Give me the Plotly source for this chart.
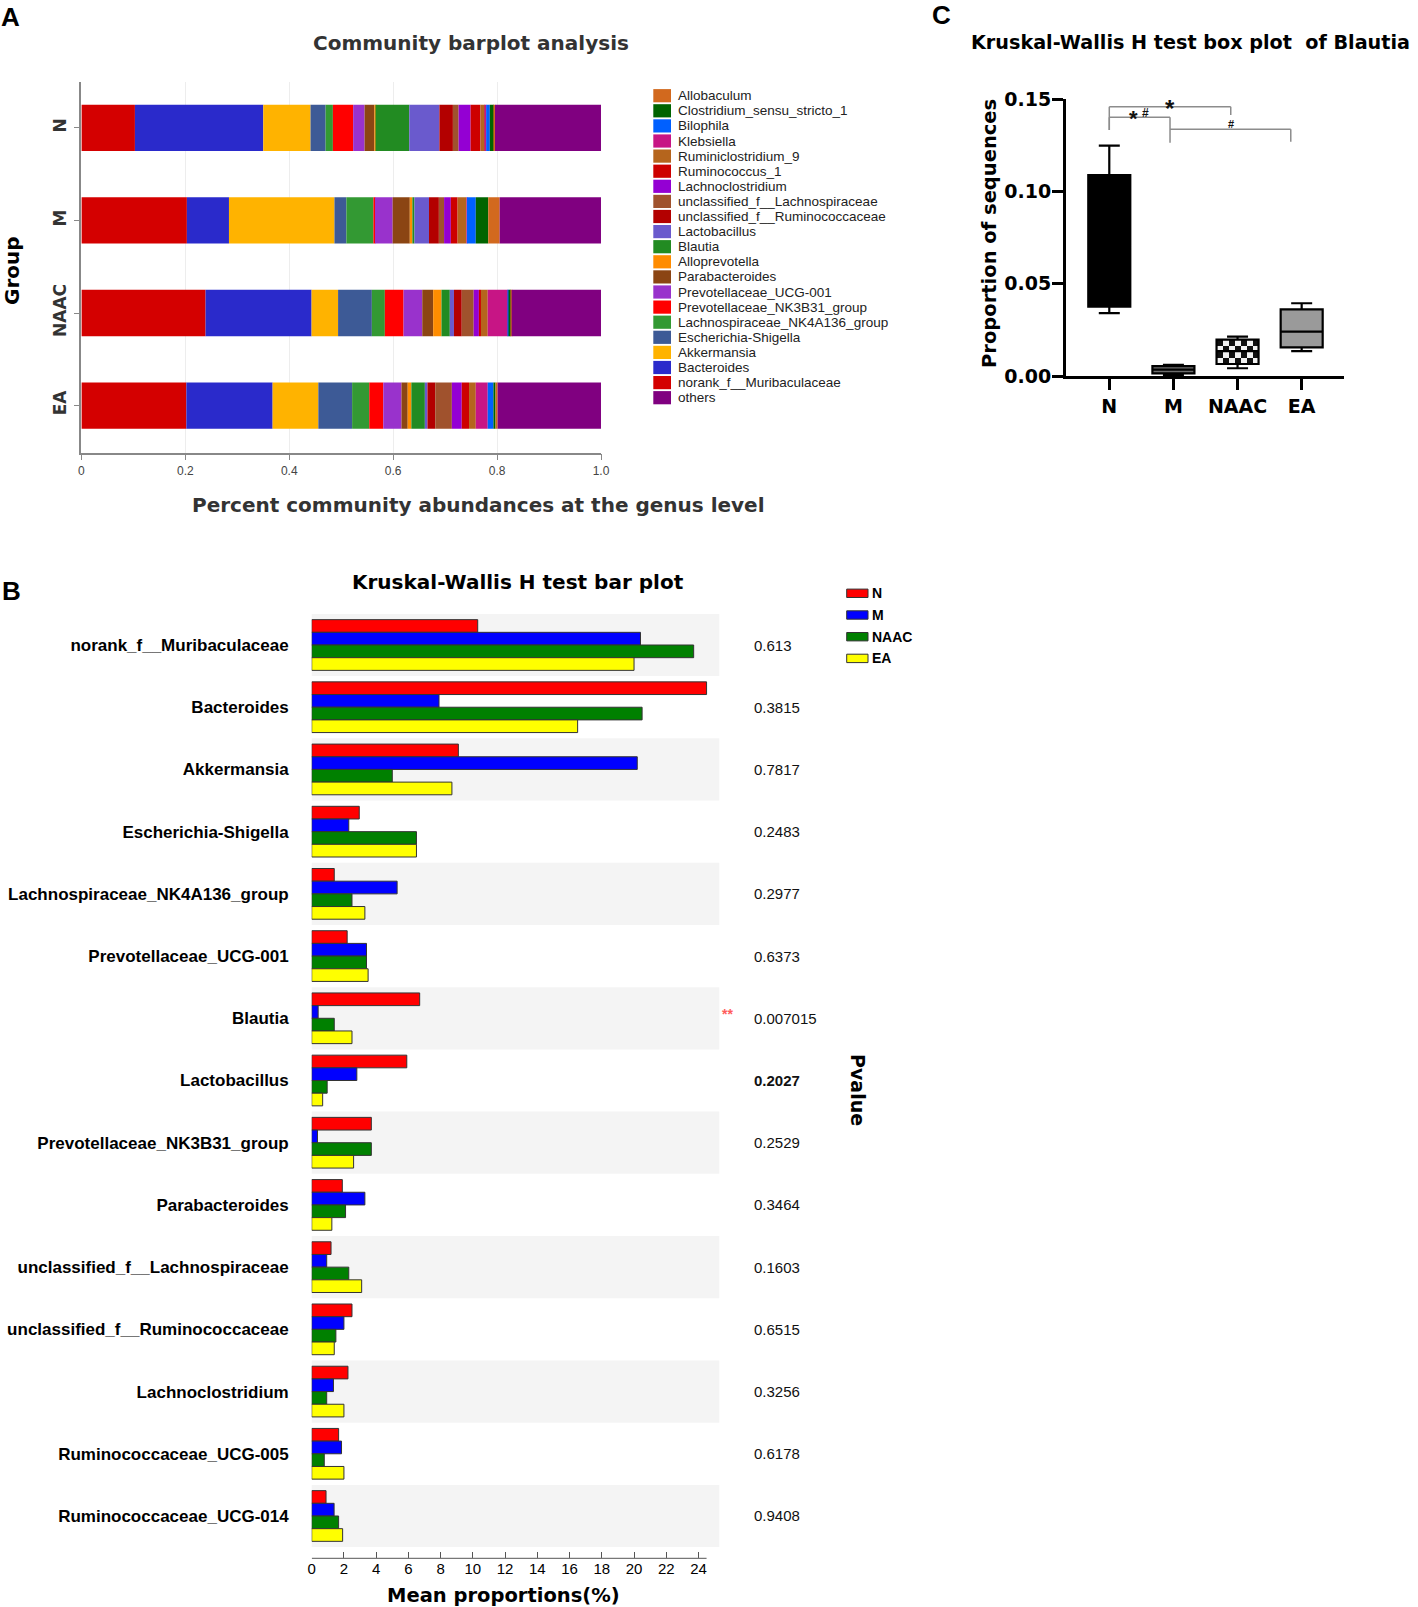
import numpy as np
import plotly.graph_objects as go

W, H = 1418, 1607


def px(x):
    return x / W


def py(y):
    return 1 - y / H


# ---------------- Panel A data (stacked community barplot) ----------------
groups_a = ["N", "M", "NAAC", "EA"]
genera_a = [
    "norank_f__Muribaculaceae", "Bacteroides", "Akkermansia", "Escherichia-Shigella",
    "Lachnospiraceae_NK4A136_group", "Prevotellaceae_NK3B31_group", "Prevotellaceae_UCG-001",
    "Parabacteroides", "Alloprevotella", "Blautia", "Lactobacillus",
    "unclassified_f__Ruminococcaceae", "unclassified_f__Lachnospiraceae", "Lachnoclostridium",
    "Ruminococcus_1", "Ruminiclostridium_9", "Klebsiella", "Bilophila",
    "Clostridium_sensu_stricto_1", "Allobaculum", "others",
]
abund_N = [0.103, 0.247, 0.091, 0.029, 0.014, 0.039, 0.022, 0.019, 0.002, 0.065, 0.058,
           0.026, 0.011, 0.023, 0.019, 0.009, 0.002, 0.007, 0.008, 0.002, 0.204]
abund_M = [0.203, 0.081, 0.203, 0.023, 0.052, 0.003, 0.034, 0.033, 0.005, 0.004, 0.028,
           0.019, 0.010, 0.013, 0.013, 0.017, 0.001, 0.017, 0.024, 0.022, 0.195]
abund_NAAC = [0.239, 0.204, 0.051, 0.065, 0.025, 0.036, 0.036, 0.021, 0.016, 0.016, 0.008,
              0.015, 0.023, 0.010, 0.004, 0.013, 0.039, 0.001, 0.005, 0.001, 0.172]
abund_EA = [0.202, 0.166, 0.088, 0.065, 0.033, 0.027, 0.035, 0.012, 0.007, 0.026, 0.005,
            0.015, 0.032, 0.019, 0.014, 0.013, 0.023, 0.011, 0.004, 0.004, 0.199]
colors_a = [
    "#d40000", "#2a2acb", "#ffb300", "#3d5a96", "#339933", "#ff0000", "#9932cc",
    "#8b4513", "#ff8c00", "#228b22", "#6a5acd", "#b30000", "#a0522d", "#9400d3",
    "#cd0000", "#b5651d", "#c71585", "#0060ff", "#006400", "#d2691e", "#800080",
]
xticks_a = [0, 0.2, 0.4, 0.6, 0.8, 1.0]
xticktext_a = ["0", "0.2", "0.4", "0.6", "0.8", "1.0"]

# ---------------- Panel B data (Kruskal-Wallis bar plot) ----------------
genera_b = [
    "norank_f__Muribaculaceae", "Bacteroides", "Akkermansia", "Escherichia-Shigella",
    "Lachnospiraceae_NK4A136_group", "Prevotellaceae_UCG-001", "Blautia", "Lactobacillus",
    "Prevotellaceae_NK3B31_group", "Parabacteroides", "unclassified_f__Lachnospiraceae",
    "unclassified_f__Ruminococcaceae", "Lachnoclostridium", "Ruminococcaceae_UCG-005",
    "Ruminococcaceae_UCG-014",
]
groups_b = ["N", "M", "NAAC", "EA"]
mean_N = [10.3, 24.5, 9.1, 2.95, 1.4, 2.2, 6.7, 5.9, 3.7, 1.9, 1.2, 2.5, 2.25, 1.67, 0.89]
mean_M = [20.4, 7.9, 20.2, 2.3, 5.3, 3.4, 0.4, 2.8, 0.36, 3.3, 0.93, 2.0, 1.35, 1.85, 1.39]
mean_NAAC = [23.7, 20.5, 5.0, 6.5, 2.5, 3.4, 1.4, 0.96, 3.7, 2.1, 2.3, 1.5, 0.93, 0.78, 1.67]
mean_EA = [20.0, 16.5, 8.7, 6.5, 3.3, 3.5, 2.5, 0.68, 2.6, 1.25, 3.1, 1.4, 2.0, 2.0, 1.92]
pvalues_b = ["0.613", "0.3815", "0.7817", "0.2483", "0.2977", "0.6373", "0.007015", "0.2027",
             "0.2529", "0.3464", "0.1603", "0.6515", "0.3256", "0.6178", "0.9408"]
colors_b = ["#ff0000", "#0000ff", "#008000", "#ffff00"]
xticks_b = list(range(0, 25, 2))

# ---------------- Panel C data (box plot of Blautia) ----------------
groups_c = ["N", "M", "NAAC", "EA"]
q1_c = [0.0375, 0.0014, 0.0065, 0.0155]
median_c = [0.0700, 0.0035, 0.0135, 0.0240]
q3_c = [0.1088, 0.0054, 0.0197, 0.0361]
lower_c = [0.0341, 0.0005, 0.0042, 0.0135]
upper_c = [0.1247, 0.0061, 0.0213, 0.0394]
yticks_c = [0, 0.05, 0.10, 0.15]
yticktext_c = ["0.00", "0.05", "0.10", "0.15"]

BOLD = "DejaVu Sans"
ARIAL = "Liberation Sans"

fig = go.Figure()

# ---- Panel A traces ----
stack = np.array([abund_N, abund_M, abund_NAAC, abund_EA])
base = np.cumsum(stack, axis=1) - stack
for j, g in enumerate(genera_a):
    fig.add_trace(go.Bar(
        x=stack[:, j], y=groups_a, base=base[:, j], orientation="h",
        width=0.5, offset=-0.25, name=g,
        marker=dict(color=colors_a[j], line=dict(width=0)),
        xaxis="x", yaxis="y", showlegend=False, hoverinfo="skip",
    ))

# ---- Panel B traces ----
for vals, g, c in zip([mean_N, mean_M, mean_NAAC, mean_EA], groups_b, colors_b):
    fig.add_trace(go.Bar(
        x=vals, y=genera_b, orientation="h", name=g,
        marker=dict(color=c, line=dict(color="#333333", width=1)),
        xaxis="x3", yaxis="y3", showlegend=False, hoverinfo="skip",
    ))

# ---- Panel C traces ----
bw = 0.655
# checkerboard for NAAC box
ix = groups_c.index("NAAC")
xe = np.linspace(ix - bw / 2, ix + bw / 2, 8)
ye = np.linspace(q1_c[ix], q3_c[ix], 5)
zc = [[(i + j) % 2 for j in range(7)] for i in range(4)]
fig.add_trace(go.Heatmap(
    x=xe, y=ye, z=zc, zmin=0, zmax=1, showscale=False,
    colorscale=[[0, "#f2f2f2"], [1, "#111111"]], hoverinfo="skip",
    xaxis="x2", yaxis="y2",
))
fills_c = ["#000000", "#6e6e6e", "rgba(0,0,0,0)", "#9a9a9a"]
for i, g in enumerate(groups_c):
    fig.add_trace(go.Box(
        x=[i], q1=[q1_c[i]], median=[median_c[i]], q3=[q3_c[i]],
        lowerfence=[lower_c[i]], upperfence=[upper_c[i]],
        width=bw, whiskerwidth=0.5, fillcolor=fills_c[i],
        line=dict(color="black", width=2.2), name=g,
        xaxis="x2", yaxis="y2", showlegend=False, hoverinfo="skip",
        boxpoints=False,
    ))

shapes = []
annotations = []

# ---- Panel B row backgrounds ----
for i in range(0, len(genera_b), 2):
    shapes.append(dict(type="rect", xref="x3 domain", yref="y3", x0=0, x1=1,
                       y0=i - 0.5, y1=i + 0.5, fillcolor="#f4f4f4",
                       line=dict(width=0), layer="below"))
shapes.append(dict(type="line", xref="x3", yref="y3 domain", x0=0, x1=24.5, y0=0, y1=0,
                   line=dict(color="#777777", width=1.2)))

# p-values
for i, p in enumerate(pvalues_b):
    txt = "<b>%s</b>" % p if p == "0.2027" else p
    annotations.append(dict(xref="paper", yref="y3", x=px(752), y=i, text=txt,
                            showarrow=False, xanchor="left", yanchor="middle",
                            font=dict(family=ARIAL, size=15, color="#111111")))
annotations.append(dict(xref="paper", yref="y3", x=px(727), y=genera_b.index("Blautia"),
                        yshift=4, text="**", showarrow=False,
                        font=dict(family=ARIAL, size=14, color="#ff5c5c", weight="bold")))

# ---- Panel A legend (manual, compact) ----
legend_order = genera_a[-2::-1] + [genera_a[-1]]
for k, g in enumerate(legend_order):
    yc = 95.7 + 15.1 * k
    shapes.append(dict(type="rect", xref="paper", yref="paper",
                       x0=px(653.3), x1=px(671), y0=py(yc + 6.6), y1=py(yc - 6.6),
                       fillcolor=colors_a[genera_a.index(g)], line=dict(width=0)))
    annotations.append(dict(xref="paper", yref="paper", x=px(676), y=py(yc), text=g,
                            showarrow=False, xanchor="left", yanchor="middle",
                            font=dict(family=ARIAL, size=13.5, color="#222222")))

# ---- Panel B legend ----
for k, (g, c) in enumerate(zip(groups_b, colors_b)):
    yc = 593.3 + 21.7 * k
    shapes.append(dict(type="rect", xref="paper", yref="paper",
                       x0=px(846.7), x1=px(868), y0=py(yc + 4.2), y1=py(yc - 4.2),
                       fillcolor=c, line=dict(color="#333333", width=1)))
    annotations.append(dict(xref="paper", yref="paper", x=px(869.5), y=py(yc), text=g,
                            showarrow=False, xanchor="left", yanchor="middle",
                            font=dict(family=ARIAL, size=14, color="black", weight="bold")))

# ---- Panel C significance brackets ----
gray = "#8c8c8c"
brackets = [
    # (x0, x1, y_top, y_left_bottom, y_right_bottom)
    (0.0, 0.947, 0.1401, 0.1332, 0.1263),
    (0.0, 1.894, 0.1458, 0.1332, 0.1413),
    (0.947, 2.83, 0.1336, 0.1336, 0.1269),
]
for x0, x1, yt, yl, yr in brackets:
    shapes.append(dict(type="line", xref="x2", yref="y2", x0=x0, x1=x1, y0=yt, y1=yt,
                       line=dict(color=gray, width=1.5)))
    shapes.append(dict(type="line", xref="x2", yref="y2", x0=x0, x1=x0, y0=yl, y1=yt,
                       line=dict(color=gray, width=1.5)))
    shapes.append(dict(type="line", xref="x2", yref="y2", x0=x1, x1=x1, y0=yr, y1=yt,
                       line=dict(color=gray, width=1.5)))
sig_marks = [("*", 0.375, 0.1426, 22), ("#", 0.568, 0.1426, 12),
             ("*", 0.947, 0.1483, 24), ("#", 1.894, 0.1365, 11)]
for t, xx, yy, sz in sig_marks:
    annotations.append(dict(xref="x2", yref="y2", x=xx, y=yy, text=t, showarrow=False,
                            yshift=(-sz * 0.28 if t == "*" else 0),
                            font=dict(family=ARIAL, size=sz, color="#111111", weight="bold")))


# ---- Titles and labels ----
def label(text, x, y, size, family=BOLD, color="black", angle=0, anchor="center", weight="bold"):
    annotations.append(dict(xref="paper", yref="paper", x=px(x), y=py(y), text=text,
                            showarrow=False, xanchor=anchor, yanchor="middle",
                            textangle=angle,
                            font=dict(family=family, size=size, color=color, weight=weight)))


label("A", 10, 17, 26, family=ARIAL)
label("B", 11, 591, 26, family=ARIAL)
label("C", 941, 15, 26, family=ARIAL)
label("Community barplot analysis", 471, 42.7, 20, color="#333333")
label("Percent community abundances at the genus level", 479, 505, 20, color="#333333")
label("Group", 12, 271, 20, angle=-90)
label("Kruskal-Wallis H test bar plot", 518, 582, 20)
label("Mean proportions(%)", 503, 1595, 19.5)
label("Pvalue", 858, 1090, 19, angle=90)
label("Kruskal-Wallis H test box plot\u00a0 of Blautia", 969, 42.7, 19.2, anchor="left")
label("Proportion of sequences", 990, 234, 19.5, angle=-90)

fig.update_layout(
    width=W, height=H, autosize=False,
    margin=dict(l=0, r=0, t=0, b=0, pad=0),
    template="none",
    paper_bgcolor="white", plot_bgcolor="white",
    font=dict(family=ARIAL, color="black"),
    barmode="group", bargap=0.185, bargroupgap=0,
    showlegend=False, hovermode=False,
    shapes=shapes, annotations=annotations,
    # Panel A axes
    xaxis=dict(domain=[px(81.4), px(601)], range=[0, 1], anchor="y",
               tickvals=xticks_a, ticktext=xticktext_a, ticks="outside", ticklen=6,
               tickcolor="#888888", showline=True, linecolor="#888888", linewidth=1.5,
               showgrid=True, gridcolor="#ededed", zeroline=False,
               tickfont=dict(family=ARIAL, size=12, color="#444444")),
    yaxis=dict(domain=[py(452.7), py(81.7)], range=[3.51, -0.5], anchor="x",
               type="category", categoryorder="array", categoryarray=groups_a,
               tickangle=-90, ticks="outside", ticklen=6, tickcolor="#888888",
               showline=True, linecolor="#888888", linewidth=1.5, showgrid=False,
               zeroline=False, ticklabelstandoff=1,
               tickfont=dict(family=BOLD, size=17, color="#333333", weight="bold")),
    # Panel C axes
    xaxis2=dict(domain=[px(1066), px(1344)], range=[-0.675, 3.66], anchor="y2",
                tickvals=list(range(len(groups_c))), ticktext=groups_c,
                ticks="outside", ticklen=11, tickwidth=3, tickcolor="black",
                showline=True, linecolor="black", linewidth=3, showgrid=False,
                zeroline=False,
                tickfont=dict(family=BOLD, size=19, color="black", weight="bold")),
    yaxis2=dict(domain=[py(376), py(99)], range=[0, 0.15], anchor="x2",
                tickvals=yticks_c, ticktext=yticktext_c,
                ticks="outside", ticklen=11, tickwidth=3, tickcolor="black",
                showline=True, linecolor="black", linewidth=3, showgrid=False,
                zeroline=False, ticklabelstandoff=-3,
                tickfont=dict(family=BOLD, size=19, color="black", weight="bold")),
    # Panel B axes
    xaxis3=dict(domain=[px(311.7), px(719.3)], range=[0, 25.29], anchor="y3",
                tickvals=xticks_b, ticks="inside", ticklen=6, tickcolor="#555555",
                showline=False, showgrid=False, zeroline=False,
                tickfont=dict(family=ARIAL, size=15, color="black")),
    yaxis3=dict(domain=[py(1558.3), py(613.9)], range=[14.68, -0.5], anchor="x3",
                type="category", categoryorder="array", categoryarray=genera_b,
                ticks="", showline=False, showgrid=False, zeroline=False,
                ticklabelstandoff=22,
                tickfont=dict(family=ARIAL, size=17, color="black", weight="bold")),
)

fig.write_html("out.html", config={"displayModeBar": False},
               post_script="document.body.style.margin='0px';")
